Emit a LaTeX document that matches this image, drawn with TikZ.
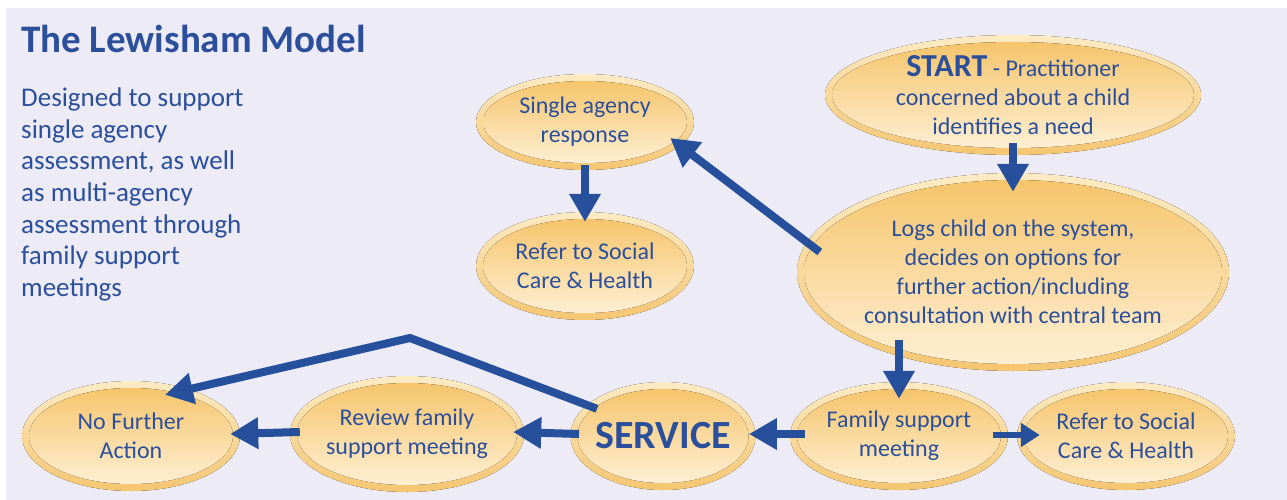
\documentclass[tikz,border=0pt]{standalone}
\usepackage{fontspec}
\setmainfont{Carlito}
\usetikzlibrary{arrows.meta,shapes.geometric,calc}
\definecolor{bg}{HTML}{EDECF6}
\definecolor{txt}{HTML}{2B4F9B}
\definecolor{arr}{HTML}{264F9C}
\definecolor{rimtop}{HTML}{FDEBC4}
\definecolor{rimbot}{HTML}{F5C671}
\definecolor{intop}{HTML}{F6C56C}
\definecolor{inbot}{HTML}{FEEFD3}
\tikzset{
  etext/.style={shape=ellipse, inner sep=0pt, align=center, text=txt, font=\fontsize{24}{29}\selectfont},
  big/.style={draw=arr, line width=8pt, -{Triangle[length=28pt,width=30pt]}},
  small/.style={draw=arr, line width=6pt, -{Triangle[length=19pt,width=23pt]}},
}
% name, x, y, rx, ry, text
\newcommand\bevel[6]{%
  \fill[top color=rimtop,bottom color=rimbot] (#2,#3) ellipse [x radius=#4pt, y radius=#5pt];
  \fill[top color=intop,bottom color=inbot] (#2,#3) ellipse [x radius=#4pt-7pt, y radius=#5pt-7pt];
  \node[etext, minimum width=2*#4pt, minimum height=2*#5pt] (#1) at (#2,#3) {#6};
}
\begin{document}
\begin{tikzpicture}[x=1pt,y=-1pt]
\useasboundingbox (0,0) rectangle (1287,500);
\fill[white] (0,0) rectangle (1287,500);
\fill[bg] (6,8) rectangle (1287,500);

\node[anchor=base west, inner sep=0pt, text=txt, font=\fontsize{39}{44}\selectfont\bfseries] (title) at (21,53) {The Lewisham Model};
\node[anchor=north west, inner sep=0pt, align=left, text=txt, font=\fontsize{27}{31.7}\selectfont] (desc) at (21,87.5)
 {Designed to support\\single agency\\assessment, as well\\as multi-agency\\assessment through\\family support\\meetings};

\bevel{sar}{585}{122}{109}{48}{Single agency\\response}
\bevel{ref1}{585}{266}{109}{54}{Refer to Social\\Care \& Health}
\bevel{start}{1013}{95}{188}{60}{{\fontsize{32}{29}\selectfont\bfseries START} - Practitioner\\concerned about a child\\identifies a need}
\bevel{logs}{1013}{272}{216}{99}{Logs child on the system,\\decides on options for\\further action/including\\consultation with central team}
\bevel{nfa}{131}{436}{109}{55}{No Further\\Action}
\bevel{rev}{407}{434}{117}{58}{Review family\\support meeting}
\bevel{serv}{663}{436}{92.5}{54}{\fontsize{40}{44}\selectfont\bfseries SERVICE}
\bevel{fam}{899}{436}{109}{54}{Family support\\meeting}
\bevel{ref2}{1126}{436}{109}{54}{Refer to Social\\Care \& Health}

\coordinate (bend) at (410,338);

\draw[big] ([yshift=12pt]start.south) -- ([yshift=-19pt]logs.north);
\draw[big] ([yshift=5pt]sar.south) -- ([yshift=-10pt]ref1.north);
\draw[big] ([xshift=23pt,yshift=20pt]logs.west) -- ([xshift=-24pt,yshift=-16pt]sar.east);
\draw[big] ($(logs.south -| fam.north)+(0,-31)$) -- ([yshift=-17pt]fam.north);
\draw[big] ([xshift=15pt,yshift=2pt]fam.west) -- ([xshift=-10pt,yshift=2pt]serv.east);
\draw[small] ([xshift=-15pt,yshift=1pt]fam.east) -- ([xshift=23pt,yshift=1pt]ref2.west);
\draw[big] ([xshift=12pt,yshift=2pt]serv.west) -- ([xshift=-11pt,yshift=2pt]rev.east);
\draw[big] ([xshift=10pt,yshift=2pt]rev.west) -- ([xshift=-10pt,yshift=2pt]nfa.east);
\draw[big, line join=miter] ([xshift=-66pt,yshift=-27pt]serv.north) -- (bend) -- ([xshift=34pt,yshift=-14pt]nfa.north);
\end{tikzpicture}
\end{document}
